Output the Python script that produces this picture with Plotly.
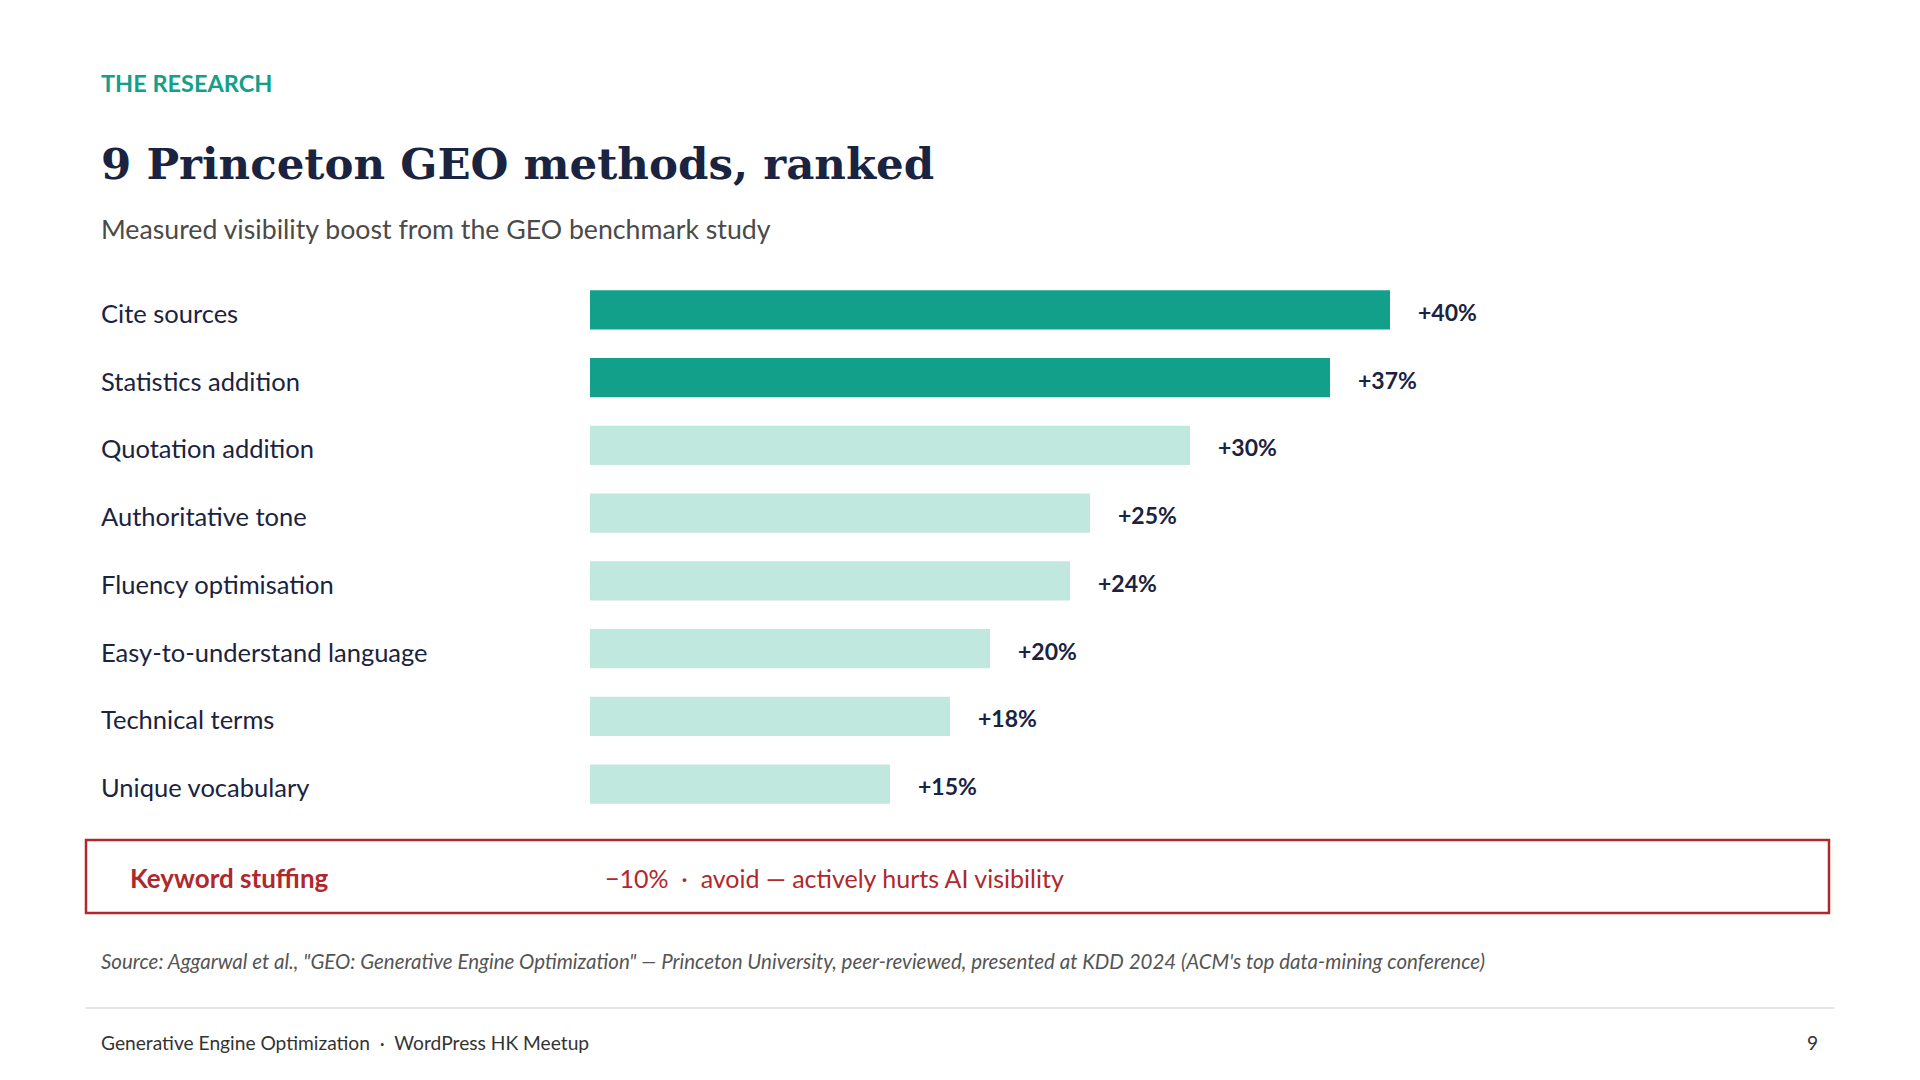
import plotly.graph_objects as go

# Dados
metodos = ['Cite sources', 'Statistics addition', 'Quotation addition', 'Authoritative tone',
           'Fluency optimisation', 'Easy-to-understand language', 'Technical terms', 'Unique vocabulary']
ganhos = [40, 37, 30, 25, 24, 20, 18, 15]

TEAL = '#12a08a'
TEAL_CLARO = '#c0e8df'
AZUL_ESCURO = '#1a2340'
VERMELHO = '#b0282b'
FONTE = 'Lato'
W, H = 1920, 1080
D = 8  # margem do body no navegador

def px(x):
    return (x - D) / W

def py(y):
    return 1 - (y - D) / H

cores = [TEAL if g >= 35 else TEAL_CLARO for g in ganhos]

fig = go.Figure()
fig.add_trace(go.Bar(
    x=ganhos,
    y=metodos,
    orientation='h',
    marker_color=cores,
    marker_line_width=0,
    hoverinfo='skip'
))

# Rótulos das categorias (alinhados à esquerda) e valores
for m, g in zip(metodos, ganhos):
    fig.add_annotation(x=px(99), y=m, xref='paper', yref='y', xanchor='left', text=m, yshift=-3,
                       showarrow=False, font=dict(family=FONTE, size=25.5, color=AZUL_ESCURO))
    fig.add_annotation(x=g, y=m, xref='x', yref='y', xanchor='left', text=f'<b>+{g}%</b>', yshift=-2,
                       showarrow=False, font=dict(family=FONTE, size=23, color=AZUL_ESCURO), xshift=26)

# Cabeçalho
fig.add_annotation(x=px(99), y=py(83), xref='paper', yref='paper', xanchor='left', yanchor='middle',
                   text='<b>THE RESEARCH</b>', showarrow=False, font=dict(family=FONTE, size=23.5, color=TEAL))
fig.add_annotation(x=px(99), y=py(164), xref='paper', yref='paper', xanchor='left', yanchor='middle',
                   text='<b>9 Princeton GEO methods, ranked</b>', showarrow=False,
                   font=dict(family='DejaVu Serif', size=43.5, color=AZUL_ESCURO))
fig.add_annotation(x=px(99), y=py(229), xref='paper', yref='paper', xanchor='left', yanchor='middle',
                   text='Measured visibility boost from the GEO benchmark study', showarrow=False,
                   font=dict(family=FONTE, size=26.7, color='#4a4a4a'))

# Caixa de aviso: keyword stuffing
fig.add_shape(type='rect', xref='paper', yref='paper', x0=px(86), x1=px(1829),
              y0=py(913), y1=py(840), line=dict(color=VERMELHO, width=2.5), fillcolor='white')
fig.add_annotation(x=px(128), y=py(878), xref='paper', yref='paper', xanchor='left', yanchor='middle',
                   text='<b>Keyword stuffing</b>', showarrow=False, font=dict(family=FONTE, size=26, color=VERMELHO))
fig.add_annotation(x=px(603), y=py(878), xref='paper', yref='paper', xanchor='left', yanchor='middle',
                   text='−10%  ·  avoid — actively hurts AI visibility', showarrow=False,
                   font=dict(family=FONTE, size=25, color=VERMELHO))

# Fonte e rodapé
fig.add_annotation(x=px(99), y=py(961), xref='paper', yref='paper', xanchor='left', yanchor='middle',
                   text='<i>Source: Aggarwal et al., "GEO: Generative Engine Optimization" — Princeton University, '
                        'peer-reviewed, presented at KDD 2024 (ACM\'s top data-mining conference)</i>',
                   showarrow=False, font=dict(family=FONTE, size=20.5, color='#555555'))
fig.add_shape(type='line', xref='paper', yref='paper', x0=px(86), x1=px(1834),
              y0=py(1008), y1=py(1008), line=dict(color='#dddddd', width=1.5))
fig.add_annotation(x=px(99), y=py(1042), xref='paper', yref='paper', xanchor='left', yanchor='middle',
                   text='Generative Engine Optimization  ·  WordPress HK Meetup', showarrow=False,
                   font=dict(family=FONTE, size=19.2, color='#333333'))
fig.add_annotation(x=px(1820), y=py(1042), xref='paper', yref='paper', xanchor='right', yanchor='middle',
                   text='9', showarrow=False, font=dict(family=FONTE, size=19.2, color='#333333'))

fig.update_layout(
    width=W, height=H,
    margin=dict(l=0, r=0, t=0, b=0),
    plot_bgcolor='white', paper_bgcolor='white',
    showlegend=False,
    bargap=0.42,
    xaxis=dict(domain=[px(590), 1.0], range=[0, (W - 590 + D) / 20], visible=False),
    yaxis=dict(domain=[py(818), py(276)], autorange='reversed', visible=False, type='category')
)

fig.write_html('out.html')
